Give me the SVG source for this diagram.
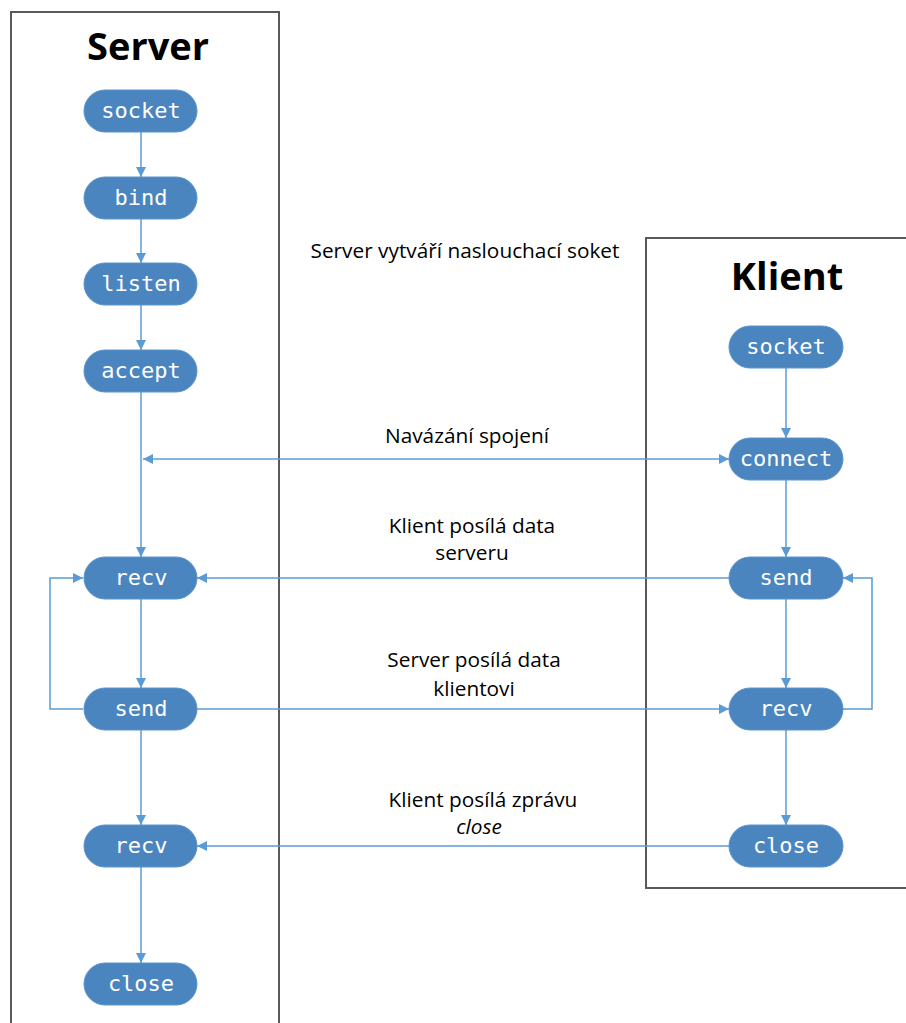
<svg xmlns="http://www.w3.org/2000/svg" width="906" height="1023" viewBox="0 0 906 1023">
<defs>
<marker id="arr" viewBox="0 0 10 10" refX="10" refY="5" markerWidth="10" markerHeight="10" markerUnits="userSpaceOnUse" orient="auto-start-reverse">
<path d="M0,0 L10,5 L0,10 z" fill="#5b9bd5"/>
</marker>
</defs>
<style>
.lane{fill:none;stroke:#595959;stroke-width:2}
.title{font-family:"Open Sans","Noto Sans",sans-serif;font-weight:bold;font-size:38px;fill:#000;text-anchor:middle}
.node rect{fill:#4a85bf;stroke:#5b94cc;stroke-width:1}
.node text{font-family:"DejaVu Sans Mono","Liberation Mono",monospace;font-size:22px;fill:#fff;text-anchor:middle}
.conn{fill:none;stroke:#5b9bd5;stroke-width:1.5}
.lbl{font-family:"Open Sans","Noto Sans",sans-serif;font-size:20.8px;fill:#000;text-anchor:middle}
</style>
<rect width="906" height="1023" fill="#fff"/>
<g id="server-lane">
<path class="lane" d="M11,1023 V12 H279 V1023"/>
<text class="title" x="148" y="60">Server</text>
</g>
<g id="client-lane">
<path class="lane" d="M906,238 H646 V888 H906"/>
<text class="title" x="787" y="290">Klient</text>
</g>
<g id="connectors">
<path class="conn" d="M141,132 V177" marker-end="url(#arr)"/>
<path class="conn" d="M141,218 V263" marker-end="url(#arr)"/>
<path class="conn" d="M141,304 V350" marker-end="url(#arr)"/>
<path class="conn" d="M141,392 V557" marker-end="url(#arr)"/>
<path class="conn" d="M143,459 H729" marker-start="url(#arr)" marker-end="url(#arr)"/>
<path class="conn" d="M786,368 V438" marker-end="url(#arr)"/>
<path class="conn" d="M786,480 V557" marker-end="url(#arr)"/>
<path class="conn" d="M729,578 H197" marker-end="url(#arr)"/>
<path class="conn" d="M141,599 V688" marker-end="url(#arr)"/>
<path class="conn" d="M83,709 H50 V578 H83" marker-end="url(#arr)"/>
<path class="conn" d="M197,709 H729" marker-end="url(#arr)"/>
<path class="conn" d="M786,599 V688" marker-end="url(#arr)"/>
<path class="conn" d="M843,709 H872 V578 H843" marker-end="url(#arr)"/>
<path class="conn" d="M141,730 V825" marker-end="url(#arr)"/>
<path class="conn" d="M786,730 V825" marker-end="url(#arr)"/>
<path class="conn" d="M729,846 H197" marker-end="url(#arr)"/>
<path class="conn" d="M141,867 V963" marker-end="url(#arr)"/>
</g>
<g id="labels">
<text class="lbl" x="465" y="258">Server vytváří naslouchací soket</text>
<text class="lbl" x="467" y="443">Navázání spojení</text>
<text class="lbl" x="472" y="533">Klient posílá data</text>
<text class="lbl" x="472" y="560">serveru</text>
<text class="lbl" x="474" y="667">Server posílá data</text>
<text class="lbl" x="474" y="696">klientovi</text>
<text class="lbl" x="483" y="807">Klient posílá zprávu</text>
<text class="lbl" x="479" y="834" font-style="italic">close</text>
</g>
<g id="s-socket" class="node"><rect x="84" y="90" width="113" height="42" rx="21"/><text x="141" y="118">socket</text></g>
<g id="s-bind" class="node"><rect x="84" y="177" width="113" height="42" rx="21"/><text x="141" y="205">bind</text></g>
<g id="s-listen" class="node"><rect x="84" y="263" width="113" height="42" rx="21"/><text x="141" y="291">listen</text></g>
<g id="s-accept" class="node"><rect x="84" y="350" width="113" height="42" rx="21"/><text x="141" y="378">accept</text></g>
<g id="s-recv1" class="node"><rect x="84" y="557" width="113" height="42" rx="21"/><text x="141" y="585">recv</text></g>
<g id="s-send" class="node"><rect x="84" y="688" width="113" height="42" rx="21"/><text x="141" y="716">send</text></g>
<g id="s-recv2" class="node"><rect x="84" y="825" width="113" height="42" rx="21"/><text x="141" y="853">recv</text></g>
<g id="s-close" class="node"><rect x="84" y="963" width="113" height="42" rx="21"/><text x="141" y="991">close</text></g>
<g id="c-socket" class="node"><rect x="729" y="326" width="114" height="42" rx="21"/><text x="786" y="354">socket</text></g>
<g id="c-connect" class="node"><rect x="729" y="438" width="114" height="42" rx="21"/><text x="786" y="466">connect</text></g>
<g id="c-send" class="node"><rect x="729" y="557" width="114" height="42" rx="21"/><text x="786" y="585">send</text></g>
<g id="c-recv" class="node"><rect x="729" y="688" width="114" height="42" rx="21"/><text x="786" y="716">recv</text></g>
<g id="c-close" class="node"><rect x="729" y="825" width="114" height="42" rx="21"/><text x="786" y="853">close</text></g>
</svg>
